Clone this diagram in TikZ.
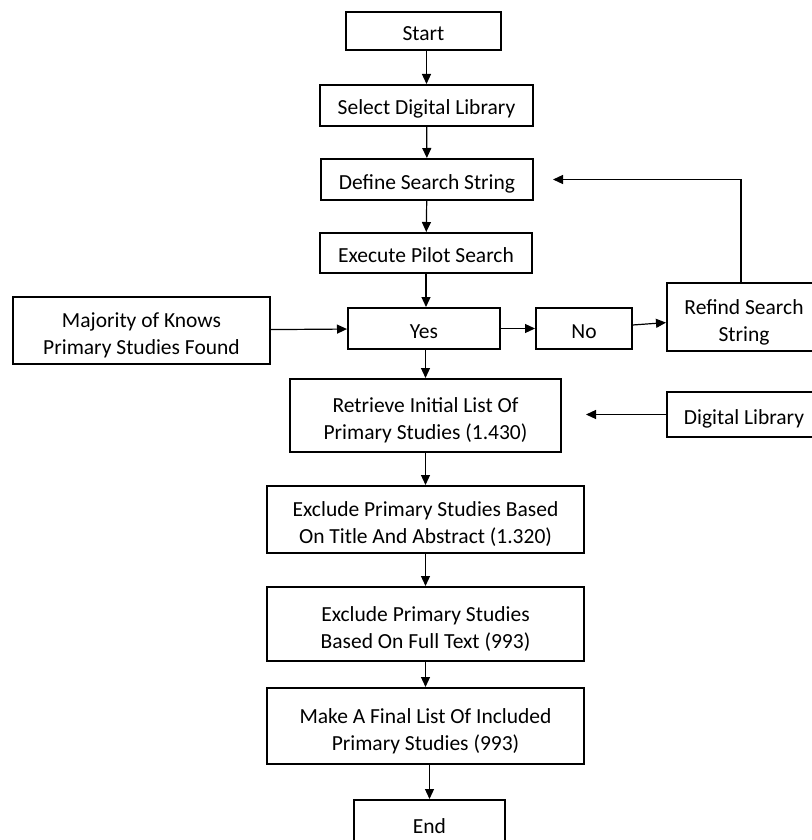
\documentclass[tikz,border=0pt]{standalone}
\usepackage{fontspec}
\setmainfont{Carlito}
\usepackage{tikz}
\usetikzlibrary{arrows.meta,positioning}
\tikzset{
  box/.style={draw=black,fill=white,line width=2pt,align=center,
    font=\fontsize{21.5}{27}\selectfont,text=black,inner sep=2pt,
    text height=19pt,text depth=0pt},
  two/.style={text height=48pt},
  flow/.style={-{Triangle[length=10pt,width=9pt]},line width=1.2pt,color=black}
}
\begin{document}
\begin{tikzpicture}[x=1pt,y=-1pt]
  \useasboundingbox[fill=white] (0,0) rectangle (811,840);
  % main column
  \node[box,minimum width=155pt,minimum height=38pt] (start) at (423.5,31) {Start};
  \node[box,minimum width=213pt,minimum height=41pt] (select) at (426.5,105.5) {Select Digital Library};
  \node[box,minimum width=212pt,minimum height=41pt] (define) at (427,179.5) {Define Search String};
  \node[box,minimum width=212pt,minimum height=40pt] (pilot) at (426,253) {Execute Pilot Search};
  \node[box,minimum width=152pt,minimum height=41pt] (yes) at (424,328.5) {Yes};
  \node[box,two,minimum width=271pt,minimum height=73pt] (retrieve) at (425.5,415.5) {Retrieve Initial List Of\\Primary Studies (1.430)};
  \node[box,two,minimum width=317pt,minimum height=67pt] (extitle) at (425.5,519.5) {Exclude Primary Studies Based\\On Title And Abstract (1.320)};
  \node[box,two,minimum width=317pt,minimum height=74pt] (exfull) at (425.5,624) {Exclude Primary Studies\\Based On Full Text (993)};
  \node[box,two,minimum width=317pt,minimum height=76pt] (final) at (425.5,726) {Make A Final List Of Included\\Primary Studies (993)};
  \node[box,minimum width=151pt,minimum height=48pt] (end) at (429.5,824) {End};
  % side boxes
  \node[box,two,minimum width=257pt,minimum height=67pt] (majority) at (141.5,330.5) {Majority of Knows\\Primary Studies Found};
  \node[box,minimum width=96pt,minimum height=41pt] (no) at (584,328.5) {No};
  \node[box,two,minimum width=154pt,minimum height=68pt] (refind) at (744,317) {Refind Search\\String};
  \node[box,minimum width=154pt,minimum height=45pt] (digital) at (744,414.5) {Digital Library};
  % connectors
  \draw[flow] (start.south -| select) -- (select);
  \draw[flow] (select) -- (define);
  \draw[flow] (define) -- (pilot);
  \draw[flow] (pilot) -- (pilot |- yes.north);
  \draw[flow] (yes.south -| retrieve) -- (retrieve);
  \draw[flow] (retrieve) -- (extitle);
  \draw[flow] (extitle) -- (exfull);
  \draw[flow] (exfull) -- (final);
  \draw[flow] (final.south -| end) -- (end);
  \draw[flow] (majority) -- (yes);
  \draw[flow] (yes) -- (no);
  \draw[flow] (no) -- (refind);
  \draw[flow,shorten >=19pt] ([xshift=-3pt]refind.north) |- (define.east);
  \draw[flow,shorten >=24pt] (digital.west) -- (digital.west -| retrieve.east);
\end{tikzpicture}
\end{document}
